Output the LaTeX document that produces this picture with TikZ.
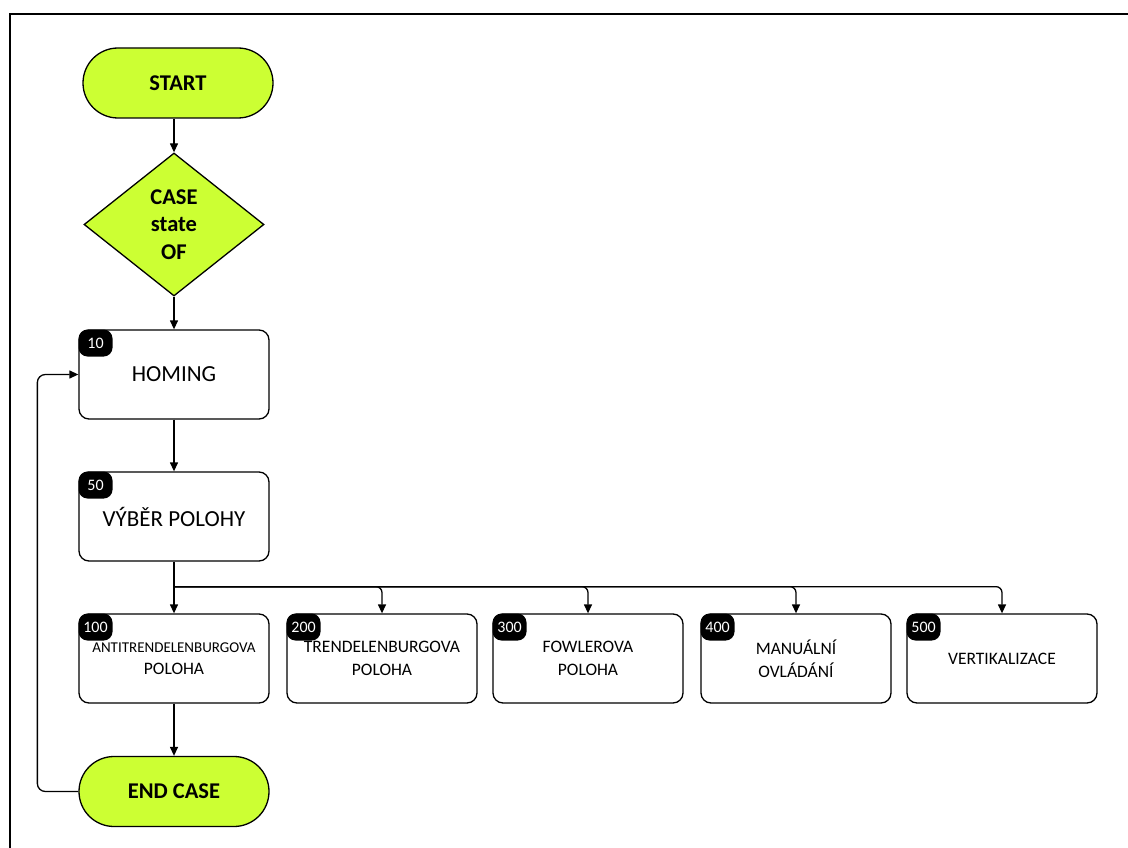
\documentclass[tikz,border=0pt]{standalone}
\usepackage{fontspec}
\setmainfont{Carlito}
\usetikzlibrary{shapes.geometric,shapes.misc,arrows.meta,calc}
\definecolor{termfill}{RGB}{204,255,51}
\begin{document}
\begin{tikzpicture}[x=1pt,y=-1pt,
  arr/.style={line width=1.3pt,-{Triangle[length=9pt,width=8pt]}},
  term/.style={rounded rectangle,draw,line width=1.3pt,fill=termfill,
    minimum width=190pt,minimum height=70pt,inner sep=0pt,
    font=\fontsize{22.5}{27}\selectfont\bfseries},
  decision/.style={diamond,draw,line width=1.3pt,fill=termfill,
    minimum width=180pt,minimum height=143pt,inner sep=0pt,align=center,
    font=\fontsize{22.5}{27.5}\selectfont\bfseries},
  stepbox/.style={rectangle,rounded corners=10pt,draw,line width=1.3pt,
    minimum width=190pt,minimum height=89pt,inner sep=0pt,align=center},
  bigtext/.style={font=\fontsize{23}{28}\selectfont},
  rowtext/.style={font=\fontsize{17.5}{23.5}\selectfont},
  badge/.style={rectangle,rounded corners=9pt,fill=black,text=white,
    minimum width=34pt,minimum height=27pt,inner sep=0pt,anchor=north west,
    font=\fontsize{16}{16}\selectfont}
]
\useasboundingbox (0,0) rectangle (1128,848);

% outer frame (left and top edges)
\draw[line width=1.3pt] (10,848) -- (10,14) -- (1128,14);

% main column
\node[term] (start) at (178,83) {START};
\node[decision] (dia) at (174,224.5) {CASE\\state\\OF};
\node[stepbox,bigtext] (homing) at (174,374.5) {HOMING};
\node[stepbox,bigtext] (vyber) at (174,516.5) {VÝBĚR POLOHY};

% branch states
\node[stepbox,rowtext] (s100) at (174,658.5) {{\fontsize{15}{18}\selectfont ANTITRENDELENBURGOVA}\\[-1pt]POLOHA};
\node[stepbox,rowtext] (s200) at (382,658.5) {TRENDELENBURGOVA\\POLOHA};
\node[stepbox,rowtext] (s300) at (588,658.5) {FOWLEROVA\\POLOHA};
\node[stepbox,rowtext] (s400) at (796,658.5) {MANUÁLNÍ\\OVLÁDÁNÍ};
\node[stepbox,rowtext] (s500) at (1002,658.5) {VERTIKALIZACE};

\node[term] (endc) at (174,791.5) {END CASE};

% state number badges
\node[badge] (b10) at (homing.north west) {10};
\node[badge] (b50) at (vyber.north west) {50};
\node[badge] (b100) at (s100.north west) {100};
\node[badge] (b200) at (s200.north west) {200};
\node[badge] (b300) at (s300.north west) {300};
\node[badge] (b400) at (s400.north west) {400};
\node[badge] (b500) at (s500.north west) {500};

% connectors
\draw[arr] (start.south -| dia.north) -- (dia.north);
\draw[arr] (dia.south) -- (homing.north);
\draw[arr] (homing.south) -- (vyber.north);
\draw[arr] (vyber.south) -- (s100.north);
\coordinate (bus) at ($(vyber.south)+(0,25)$);
\foreach \s in {s200,s300,s400,s500}
  \draw[arr,rounded corners=6pt] (bus) -| (\s.north);
\draw[arr] (s100.south) -- (endc.north);
\draw[arr,rounded corners=8pt] (endc.west) -| ([xshift=-41pt]homing.west) -- (homing.west);
\end{tikzpicture}
\end{document}
